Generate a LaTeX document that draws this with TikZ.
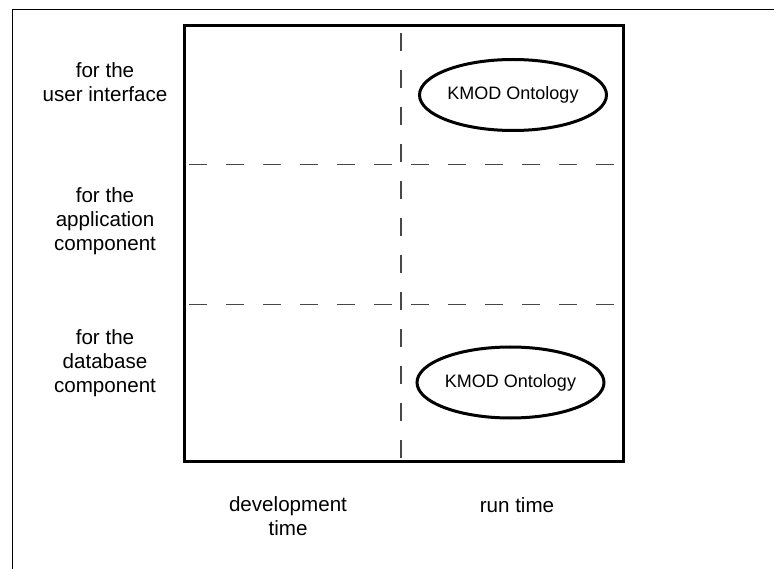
\documentclass[tikz,border=0pt]{standalone}
\usepackage{fontspec}
\setmainfont{Liberation Sans}
\usetikzlibrary{shapes.geometric}
\begin{document}
\begin{tikzpicture}[x=1pt,y=-1pt,
  lbl/.style={align=center, font=\fontsize{20.6}{24}\selectfont, inner sep=0pt},
  onto/.style={ellipse, draw, line width=3pt, minimum width=187pt, minimum height=71pt,
    inner sep=0pt, font=\fontsize{18}{21}\selectfont},
  gridline/.style={draw=black!72, line width=1.2pt, dash pattern=on 18pt off 19pt},
  frame/.style={draw, line width=3pt, inner sep=0pt, outer sep=0pt}]
\useasboundingbox (0,0) rectangle (774,569);
% outer page frame (top and left edges)
\coordinate (fb) at (12,569);
\coordinate (fc) at (12,10);
\coordinate (fr) at (774,10);
\draw[line width=1pt] (fb) -- (fc) -- (fr);

% main matrix box
\node[frame, minimum width=438.5pt, minimum height=435.5pt] (box) at (403.75,243.25) {};

% dashed dividers
\coordinate (vt) at (401,33);
\coordinate (vb) at (401,458);
\coordinate (h1l) at (189,164.3);
\coordinate (h1r) at (621,164.3);
\coordinate (h2l) at (189,304.3);
\coordinate (h2r) at (621,304.3);
\draw[gridline] (vt) -- (vb);
\draw[gridline] (h1l) -- (h1r);
\draw[gridline] (h2l) -- (h2r);

% ontology cells
\node[onto] (ontoUI) at (513,95) {KMOD Ontology};
\node[onto] (ontoDB) at (510.5,382.5) {KMOD Ontology};

% row labels
\node[lbl] (rowUI) at (105,82) {for the\\user interface};
\node[lbl] (rowApp) at (105,221) {for the\\application\\component};
\node[lbl] (rowDB) at (105,363) {for the\\database\\component};

% column labels
\node[lbl] (colDev) at (288,516) {development\\time};
\node[lbl] (colRun) at (517,505) {run time};
\end{tikzpicture}
\end{document}
